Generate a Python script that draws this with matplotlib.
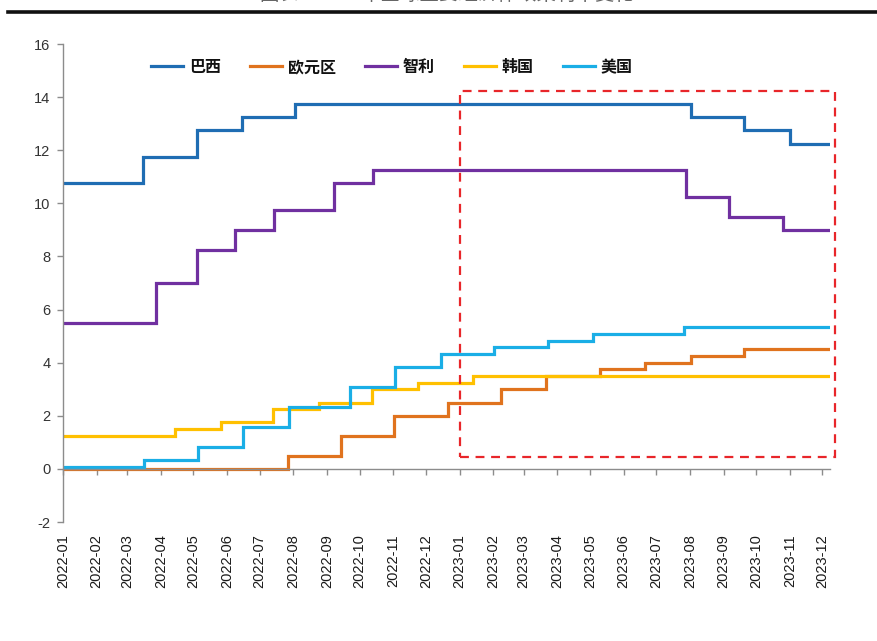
import numpy as np
import pandas as pd
import matplotlib
matplotlib.use("Agg")
import matplotlib.pyplot as plt
import matplotlib.dates as mdates
from matplotlib.lines import Line2D
from matplotlib.patches import Rectangle

plt.rcParams['font.family'] = ['Liberation Sans', 'Noto Sans CJK SC', 'DejaVu Sans']
plt.rcParams['axes.unicode_minus'] = False

START = "2022-01-01"
END = "2023-12-08"

# Policy-rate change dates and the new level (%) from each date onward
brazil_dates = [START, "2022-03-16", "2022-05-04", "2022-06-15", "2022-08-03",
                "2023-08-02", "2023-09-20", "2023-11-01"]
brazil_rates = [10.75, 11.75, 12.75, 13.25, 13.75, 13.25, 12.75, 12.25]

euro_dates = [START, "2022-07-27", "2022-09-14", "2022-11-02", "2022-12-21",
              "2023-02-08", "2023-03-22", "2023-05-10", "2023-06-21",
              "2023-08-02", "2023-09-20"]
euro_rates = [0.0, 0.5, 1.25, 2.0, 2.5, 3.0, 3.5, 3.75, 4.0, 4.25, 4.5]

chile_dates = [START, "2022-03-28", "2022-05-04", "2022-06-08", "2022-07-14",
               "2022-09-07", "2022-10-13", "2023-07-28", "2023-09-06",
               "2023-10-26"]
chile_rates = [5.5, 7.0, 8.25, 9.0, 9.75, 10.75, 11.25, 10.25, 9.5, 9.0]

korea_dates = [START, "2022-04-14", "2022-05-26", "2022-07-13", "2022-08-25",
               "2022-10-12", "2022-11-24", "2023-01-13"]
korea_rates = [1.25, 1.5, 1.75, 2.25, 2.5, 3.0, 3.25, 3.5]

us_dates = [START, "2022-03-17", "2022-05-05", "2022-06-16", "2022-07-28",
            "2022-09-22", "2022-11-03", "2022-12-15", "2023-02-02",
            "2023-03-23", "2023-05-04", "2023-07-27"]
us_rates = [0.08, 0.33, 0.83, 1.58, 2.33, 3.08, 3.83, 4.33, 4.58, 4.83,
            5.08, 5.33]

series_names = ["巴西", "欧元区", "智利", "韩国", "美国"]
series_colors = ["#1F6DB3", "#E0731E", "#7030A0", "#FFC000", "#1AAEE6"]
series_data = [(brazil_dates, brazil_rates), (euro_dates, euro_rates),
               (chile_dates, chile_rates), (korea_dates, korea_rates),
               (us_dates, us_rates)]

y_ticks = list(range(-2, 17, 2))
month_ticks = pd.date_range("2022-01-01", "2023-12-01", freq="MS")

# Highlighted period (2023) box, in data units
box_start = "2023-01-01"
box_end = "2023-12-13"
box_low, box_high = 0.45, 14.23


def step_series(dates, rates):
    d = list(pd.to_datetime(dates)) + [pd.Timestamp(END)]
    r = list(rates) + [rates[-1]]
    return d, r


fig = plt.figure(figsize=(8.77, 6.41), dpi=100)
ax = fig.add_axes([63 / 877, 1 - 522 / 641, (830 - 63) / 877, (522 - 44) / 641])

for name, color, (dates, rates) in zip(series_names, series_colors, series_data):
    d, r = step_series(dates, rates)
    ax.plot(d, r, drawstyle="steps-post", color=color, lw=2.3, label=name,
            solid_joinstyle="miter")

ax.set_ylim(-2, 16)
ax.set_yticks(y_ticks)
ax.set_xlim(pd.Timestamp(START), pd.Timestamp(END))
ax.set_xticks(month_ticks)
ax.xaxis.set_major_formatter(mdates.DateFormatter("%Y-%m"))

for s in ["top", "right"]:
    ax.spines[s].set_visible(False)
ax.spines["bottom"].set_position(("data", 0))
for s in ["left", "bottom"]:
    ax.spines[s].set_color("#8C8C8C")
    ax.spines[s].set_linewidth(1.0)

ax.tick_params(axis="y", direction="out", length=4, width=1, color="#8C8C8C",
               labelsize=10.5, labelcolor="#333333", pad=5)
ax.tick_params(axis="x", direction="out", length=4, width=1, color="#8C8C8C",
               labelsize=10.5, labelcolor="#1A1A1A", pad=43, labelrotation=90)

# Dashed box over 2023
x0 = mdates.date2num(pd.Timestamp(box_start))
x1 = mdates.date2num(pd.Timestamp(box_end))
rect = Rectangle((x0, box_low), x1 - x0, box_high - box_low, fill=False,
                 edgecolor="#E8262A", lw=1.6, linestyle=(0, (4, 3)),
                 clip_on=False, zorder=5)
ax.add_patch(rect)

leg = ax.legend(loc="center", bbox_to_anchor=(0.429, 0.952), ncol=5,
                frameon=False, handlelength=2.0, handletextpad=0.35,
                columnspacing=1.85,
                prop={"family": "Noto Sans CJK SC", "weight": "bold", "size": 11.5})
for t in leg.get_texts():
    t.set_color("#111111")

# Heading rule and heading text above the chart
fig.add_artist(Line2D([8 / 877, 1.0], [1 - 12 / 641, 1 - 12 / 641],
                      color="#111111", lw=2.6, transform=fig.transFigure))
fig.text(0.51, 1 - 5 / 641, "图表：2023年全球主要经济体政策利率变化",
         ha="center", va="bottom", fontsize=14, color="#666666",
         family=["Noto Sans CJK SC", "DejaVu Sans"])

fig.savefig("out.png", dpi=100, facecolor="white")
